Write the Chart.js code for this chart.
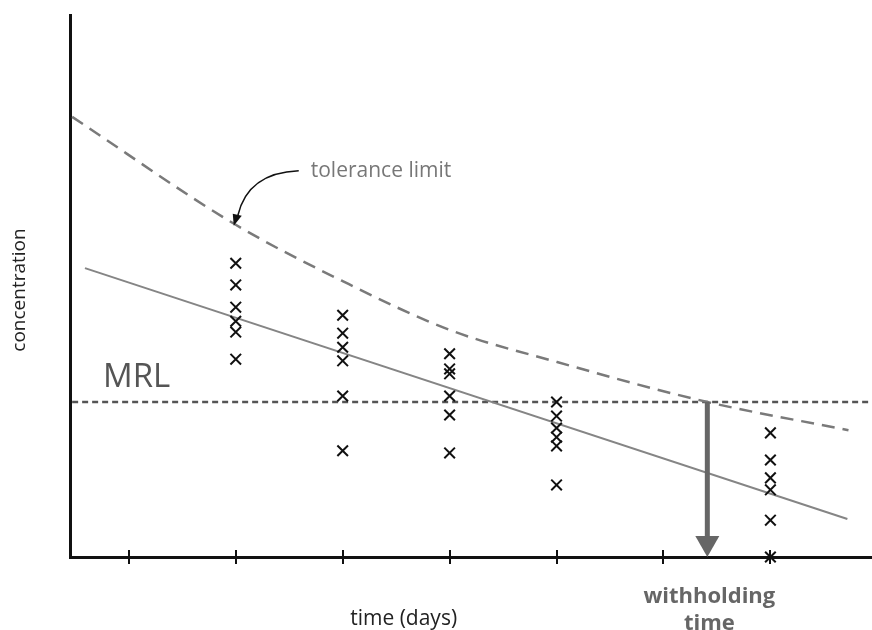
<!DOCTYPE html>
<html>
<head>
<meta charset="utf-8">
<title>Withholding time</title>
<script src="https://cdn.jsdelivr.net/npm/chart.js@4.4.1/dist/chart.umd.min.js"></script>
<style>
  html, body { margin: 0; padding: 0; background: #fff; overflow: hidden; }
  #wrap { width: 872px; height: 630px; }
  canvas { display: block; }
</style>
</head>
<body>
<div id="wrap"><canvas id="chart" width="872" height="630"></canvas></div>
<script>
// sampling days and residue concentrations (6 animals per day)
const sampleDays = [2, 3, 4, 5, 7];
const residues = [
    [5.42, 5.02, 4.61, 4.35, 4.15, 3.65],
    [4.46, 4.13, 3.87, 3.62, 2.97, 1.96],
    [3.75, 3.47, 3.38, 2.97, 2.62, 1.92],
    [2.86, 2.60, 2.38, 2.21, 2.05, 1.33],
    [2.29, 1.79, 1.46, 1.24, 0.68, 0.00]
];

// regression line
const fitDays = [0.59, 7.72];
const fitValues = [5.33, 0.70];

// upper tolerance limit
const tolDays = [0.47, 2, 3, 4, 5, 6.41, 7.73];
const tolValues = [8.12, 6.13, 5.09, 4.19, 3.60, 2.86, 2.34];

// maximum residue limit
const mrlDays = [0.47, 7.95];
const mrl = 2.86;
const withholdingDay = 6.41;

const dayTicks = [1, 2, 3, 4, 5, 6, 7];
const xRange = [0.45, 7.95];
const yRange = [0, 10];

const FONT = '"Open Sans", "Noto Sans", sans-serif';

const points = [];
sampleDays.forEach((d, i) => residues[i].forEach(v => points.push({ x: d, y: v })));

// tick marks, arrows and text labels
const decor = {
    id: 'decor',
    afterDatasetsDraw(chart) {
        const { ctx, chartArea, scales: { x, y } } = chart;
        ctx.save();

        // tick marks crossing the time axis
        ctx.strokeStyle = '#111';
        ctx.lineWidth = 2;
        dayTicks.forEach(d => {
            const px = Math.round(x.getPixelForValue(d));
            ctx.beginPath();
            ctx.moveTo(px, chartArea.bottom - 7);
            ctx.lineTo(px, chartArea.bottom + 7);
            ctx.stroke();
        });

        // withholding time arrow
        const ax = x.getPixelForValue(withholdingDay);
        const aTop = y.getPixelForValue(mrl);
        const aBot = y.getPixelForValue(0);
        ctx.strokeStyle = '#666';
        ctx.fillStyle = '#666';
        ctx.lineWidth = 5;
        ctx.beginPath();
        ctx.moveTo(ax, aTop);
        ctx.lineTo(ax, aBot - 18);
        ctx.stroke();
        ctx.beginPath();
        ctx.moveTo(ax - 12, aBot - 21);
        ctx.lineTo(ax + 12, aBot - 21);
        ctx.lineTo(ax, aBot);
        ctx.closePath();
        ctx.fill();

        // curved pointer to the tolerance curve
        const tipX = x.getPixelForValue(tolDays[1]);
        const tipY = y.getPixelForValue(tolValues[1]);
        ctx.strokeStyle = '#111';
        ctx.fillStyle = '#111';
        ctx.lineWidth = 1.5;
        ctx.beginPath();
        ctx.moveTo(tipX + 63, tipY - 54);
        ctx.quadraticCurveTo(tipX + 12, tipY - 52, tipX + 2, tipY - 9);
        ctx.stroke();
        ctx.beginPath();
        ctx.moveTo(tipX - 2, tipY + 1);
        ctx.lineTo(tipX - 3, tipY - 11);
        ctx.lineTo(tipX + 6, tipY - 9);
        ctx.closePath();
        ctx.fill();

        // labels
        ctx.textBaseline = 'alphabetic';
        ctx.textAlign = 'left';
        ctx.fillStyle = '#777';
        ctx.font = '21px ' + FONT;
        ctx.fillText('tolerance limit', tipX + 75, tipY - 48);

        ctx.fillStyle = '#555';
        ctx.font = '33px ' + FONT;
        ctx.fillText('MRL', chartArea.left + 33, y.getPixelForValue(mrl) - 15);

        ctx.textAlign = 'center';
        ctx.fillStyle = '#222';
        ctx.font = '21px ' + FONT;
        ctx.fillText('time (days)', x.getPixelForValue(3.57), 625);

        ctx.fillStyle = '#666';
        ctx.font = 'bold 22px ' + FONT;
        ctx.fillText('withholding', ax + 2, 603);
        ctx.fillText('time', ax + 2, 630);

        ctx.save();
        ctx.translate(25, (chartArea.top + chartArea.bottom) / 2 + 4);
        ctx.rotate(-Math.PI / 2);
        ctx.fillStyle = '#222';
        ctx.font = '19px ' + FONT;
        ctx.fillText('concentration', 0, 0);
        ctx.restore();

        ctx.restore();
    }
};

new Chart(document.getElementById('chart'), {
    type: 'scatter',
    data: {
        datasets: [
            {
                label: 'residues',
                data: points,
                pointStyle: 'crossRot',
                pointRadius: 7.5,
                pointBorderWidth: 2,
                borderColor: '#111',
                backgroundColor: '#111',
                clip: false,
                order: 0
            },
            {
                type: 'line',
                label: 'regression',
                data: fitDays.map((d, i) => ({ x: d, y: fitValues[i] })),
                borderColor: '#858585',
                borderWidth: 2,
                pointRadius: 0,
                clip: false,
                order: 1
            },
            {
                type: 'line',
                label: 'tolerance limit',
                data: tolDays.map((d, i) => ({ x: d, y: tolValues[i] })),
                borderColor: '#7a7a7a',
                borderWidth: 2.5,
                borderDash: [13, 8],
                cubicInterpolationMode: 'monotone',
                pointRadius: 0,
                clip: false,
                order: 2
            },
            {
                type: 'line',
                label: 'MRL',
                data: mrlDays.map(d => ({ x: d, y: mrl })),
                borderColor: '#555',
                borderWidth: 2.5,
                borderDash: [6, 4],
                pointRadius: 0,
                clip: false,
                order: 3
            }
        ]
    },
    options: {
        responsive: false,
        animation: false,
        events: [],
        layout: { autoPadding: false, padding: { left: 70, top: 15, right: 0, bottom: 73 } },
        plugins: { legend: { display: false }, tooltip: { enabled: false } },
        scales: {
            x: {
                type: 'linear',
                min: xRange[0],
                max: xRange[1],
                ticks: { display: false },
                grid: { display: false, drawTicks: false },
                border: { display: true, color: '#111', width: 3 }
            },
            y: {
                type: 'linear',
                min: yRange[0],
                max: yRange[1],
                ticks: { display: false },
                grid: { display: false, drawTicks: false },
                border: { display: true, color: '#111', width: 3 }
            }
        }
    },
    plugins: [decor]
});
</script>
</body>
</html>
